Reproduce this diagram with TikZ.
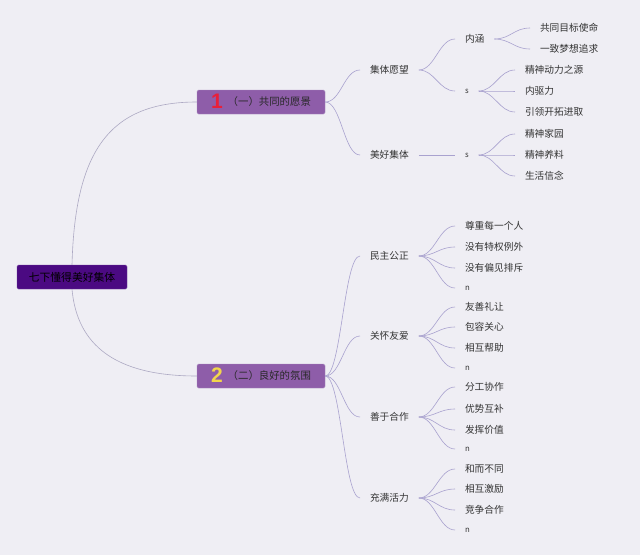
\documentclass[tikz,border=0pt]{standalone}
\usepackage{fontspec}
\setmainfont{Noto Sans CJK SC}
\newfontfamily\digitfont{Liberation Sans}
\definecolor{bgc}{HTML}{EFEEF4}
\definecolor{lc}{HTML}{A9A2CF}
\definecolor{rlc}{HTML}{ADA9C3}
\definecolor{rootfill}{HTML}{4B0A82}
\definecolor{boxfill}{HTML}{8E5DA9}
\definecolor{boxline}{HTML}{A98BBF}
\definecolor{dred}{HTML}{E8203A}
\definecolor{dyel}{HTML}{F2D64B}
\definecolor{txt}{HTML}{333333}
\newcommand\mmlink[2]{\draw[conn] (#1.east) .. controls +(16,0) and +(-16,0) .. (#2.west);}
\newcommand\bigdigit[2]{\smash{\raisebox{-2.5pt}{\digitfont\bfseries\fontsize{21}{21}\selectfont\textcolor{#1}{#2}}}}
\begin{document}
\begin{tikzpicture}[x=1pt,y=-1pt,
  conn/.style={draw=lc, line width=0.6pt},
  rootconn/.style={draw=rlc, line width=0.6pt},
  tx/.style={anchor=west, inner sep=0pt, outer xsep=10pt, text=txt, font=\fontsize{9.7}{11}\selectfont},
  sm/.style={anchor=west, inner sep=0pt, outer xsep=10pt, text=txt, font=\fontsize{7.8}{9}\selectfont},
  rootbox/.style={fill=rootfill, draw=rootfill!80!white, rounded corners=1.5pt, minimum width=110pt, minimum height=24pt, inner sep=0pt, text=black, font=\fontsize{10.8}{12}\selectfont},
  mainbox/.style={fill=boxfill, draw=boxline, rounded corners=1.5pt, minimum width=128pt, minimum height=24pt, inner sep=0pt, text=txt!80!black, font=\fontsize{10.4}{12}\selectfont}]
\fill[bgc] (0,0) rectangle (640,555);

\node[rootbox] (root) at (72,277) {七下懂得美好集体};
\node[mainbox] (b1) at (261,102) {\bigdigit{dred}{1}\hspace{5pt}（一）共同的愿景};
\node[mainbox] (b2) at (261,376) {\bigdigit{dyel}{2}\hspace{5pt}（二）良好的氛围};

% level 2
\node[tx] (q1) at (360,70) {集体愿望};
\node[tx] (q2) at (360,155) {美好集体};
\node[tx] (r1) at (360,256) {民主公正};
\node[tx] (r2) at (360,336) {关怀友爱};
\node[tx] (r3) at (360,417) {善于合作};
\node[tx] (r4) at (360,498) {充满活力};

% level 3 (vision)
\node[tx] (q1a) at (455,39) {内涵};
\node[sm] (q1b) at (455,91) {s};
\node[sm] (q2a) at (455,155) {s};

\node[tx] (q1a1) at (530,28) {共同目标使命};
\node[tx] (q1a2) at (530,49) {一致梦想追求};
\node[tx] (q1b1) at (515,70) {精神动力之源};
\node[tx] (q1b2) at (515,91) {内驱力};
\node[tx] (q1b3) at (515,112) {引领开拓进取};
\node[tx] (q2a1) at (515,134) {精神家园};
\node[tx] (q2a2) at (515,155) {精神养料};
\node[tx] (q2a3) at (515,176) {生活信念};

% level 3 (atmosphere)
\node[tx] (r1a) at (455,226) {尊重每一个人};
\node[tx] (r1b) at (455,247) {没有特权例外};
\node[tx] (r1c) at (455,268) {没有偏见排斥};
\node[sm] (r1d) at (455,288) {n};
\node[tx] (r2a) at (455,307) {友善礼让};
\node[tx] (r2b) at (455,327) {包容关心};
\node[tx] (r2c) at (455,348) {相互帮助};
\node[sm] (r2d) at (455,368) {n};
\node[tx] (r3a) at (455,387) {分工协作};
\node[tx] (r3b) at (455,409) {优势互补};
\node[tx] (r3c) at (455,430) {发挥价值};
\node[sm] (r3d) at (455,449) {n};
\node[tx] (r4a) at (455,469) {和而不同};
\node[tx] (r4b) at (455,489) {相互激励};
\node[tx] (r4c) at (455,510) {竞争合作};
\node[sm] (r4d) at (455,530) {n};

% root connectors
\draw[rootconn] (root.north) .. controls (75,150) and (110,102) .. (b1.west);
\draw[rootconn] (root.south) .. controls (77,345) and (115,376) .. (b2.west);

% box connectors
\mmlink{b1}{q1}\mmlink{b1}{q2}
\mmlink{b2}{r1}\mmlink{b2}{r2}\mmlink{b2}{r3}\mmlink{b2}{r4}

\mmlink{q1}{q1a}\mmlink{q1}{q1b}
\draw[conn] (q2.east) -- (q2a.west);
\mmlink{q1a}{q1a1}\mmlink{q1a}{q1a2}
\mmlink{q1b}{q1b1}\mmlink{q1b}{q1b2}\mmlink{q1b}{q1b3}
\mmlink{q2a}{q2a1}\mmlink{q2a}{q2a2}\mmlink{q2a}{q2a3}

\mmlink{r1}{r1a}\mmlink{r1}{r1b}\mmlink{r1}{r1c}\mmlink{r1}{r1d}
\mmlink{r2}{r2a}\mmlink{r2}{r2b}\mmlink{r2}{r2c}\mmlink{r2}{r2d}
\mmlink{r3}{r3a}\mmlink{r3}{r3b}\mmlink{r3}{r3c}\mmlink{r3}{r3d}
\mmlink{r4}{r4a}\mmlink{r4}{r4b}\mmlink{r4}{r4c}\mmlink{r4}{r4d}
\end{tikzpicture}
\end{document}
